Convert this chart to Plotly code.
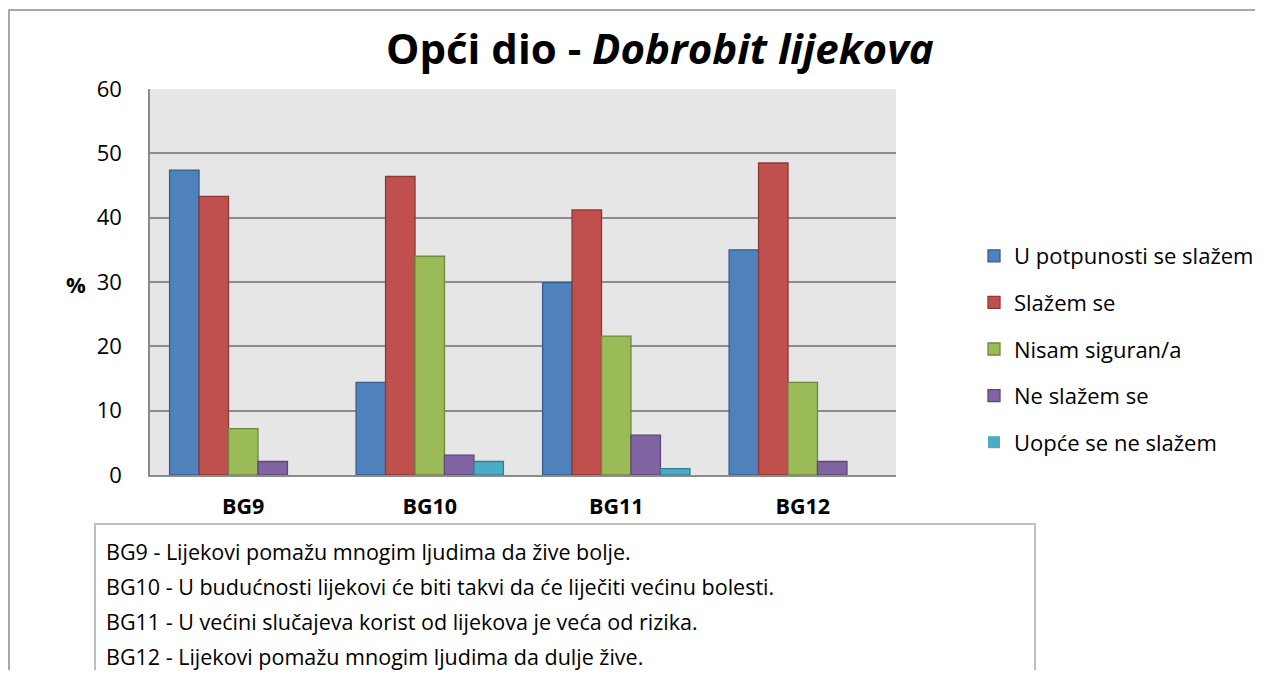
import plotly.graph_objects as go

categories = ["BG9", "BG10", "BG11", "BG12"]
series_names = ["U potpunosti se slažem", "Slažem se", "Nisam siguran/a", "Ne slažem se", "Uopće se ne slažem"]
u_potpunosti = [47.4, 14.4, 29.9, 35.0]
slazem = [43.3, 46.4, 41.2, 48.5]
nisam_siguran = [7.2, 34.0, 21.6, 14.4]
ne_slazem = [2.1, 3.1, 6.2, 2.1]
uopce_ne = [0.0, 2.1, 1.0, 0.0]
y_ticks = [0, 10, 20, 30, 40, 50, 60]
notes = [
    "BG9 - Lijekovi pomažu mnogim ljudima da žive bolje.",
    "BG10 - U budućnosti lijekovi će biti takvi da će liječiti većinu bolesti.",
    "BG11 - U većini slučajeva korist od lijekova je veća od rizika.",
    "BG12 - Lijekovi pomažu mnogim ljudima da dulje žive.",
]

fills = ["#4F81BD", "#C0504D", "#9BBB59", "#8064A2", "#4BACC6"]
edges = ["#385D8A", "#8C3836", "#71893F", "#5C4776", "#357D91"]
FONT = "Open Sans"

OFF = 8  # default page body margin
W, H = 1263 - 2 * OFF, 678 - 2 * OFF
L, R, T, B = 150 - OFF, 896 - OFF, 89 - OFF, 475 - OFF
pw, ph = R - L, B - T


def px(x):
    return (x - OFF - L) / pw


def py(y):
    return (B - (y - OFF)) / ph


fig = go.Figure()
for i, (name, vals) in enumerate(zip(series_names, [u_potpunosti, slazem, nisam_siguran, ne_slazem, uopce_ne])):
    fig.add_trace(go.Bar(
        x=categories, y=vals, name=name, legendgroup=name,
        marker=dict(color=fills[i],
                    line=dict(color=edges[i], width=[0 if v == 0 else 1.3 for v in vals])),
    ))

shapes = [
    dict(type="rect", xref="paper", yref="paper", x0=px(9), x1=px(1300), y0=py(720), y1=py(10),
         line=dict(color="#8C8C8C", width=1.5), layer="below"),
    dict(type="rect", xref="paper", yref="paper", x0=px(95), x1=px(1035), y0=py(720), y1=py(524),
         line=dict(color="#BFBFBF", width=2), layer="below"),
]

annotations = [
    dict(text="<b>Opći dio - <i>Dobrobit lijekova</i></b>", xref="paper", yref="paper",
         x=px(660), y=py(47), xanchor="center", yanchor="middle", showarrow=False,
         font=dict(family=FONT, size=42, color="black")),
    dict(text="<b>%</b>", xref="paper", yref="paper", x=px(76), y=py(284),
         xanchor="center", yanchor="middle", showarrow=False,
         font=dict(family=FONT, size=22, color="black")),
]
for k, line in enumerate(notes):
    annotations.append(dict(text=line, xref="paper", yref="paper", x=px(104), y=py(551 + 35 * k),
                            xanchor="left", yanchor="middle", showarrow=False,
                            font=dict(family=FONT, size=21.5, color="black")))

fig.update_layout(
    width=W, height=H,
    margin=dict(l=L, r=W - R, t=T, b=H - B, autoexpand=False),
    paper_bgcolor="white", plot_bgcolor="#E6E6E6",
    barmode="group", bargap=0.21, bargroupgap=0,
    font=dict(family=FONT, size=18, color="black"),
    showlegend=True,
    legend=dict(x=px(974), y=py(235), xanchor="left", yanchor="top",
                traceorder="grouped", tracegroupgap=15,
                font=dict(family=FONT, size=22, color="black"),
                bgcolor="rgba(0,0,0,0)"),
    xaxis=dict(showgrid=False, showline=True, linecolor="#8C8C8C", linewidth=1.5,
               ticks="", tickfont=dict(family=FONT, size=21.5, color="black", weight="bold"),
               ticklabelstandoff=11),
    yaxis=dict(range=[0, 60], tickvals=y_ticks, showgrid=True, gridcolor="#8C8C8C", gridwidth=1.5,
               showline=True, linecolor="#8C8C8C", linewidth=1.5, zeroline=False,
               ticks="", tickfont=dict(family=FONT, size=22, color="black"),
               ticklabelstandoff=22),
    shapes=shapes,
    annotations=annotations,
)

fig.write_html("out.html")
